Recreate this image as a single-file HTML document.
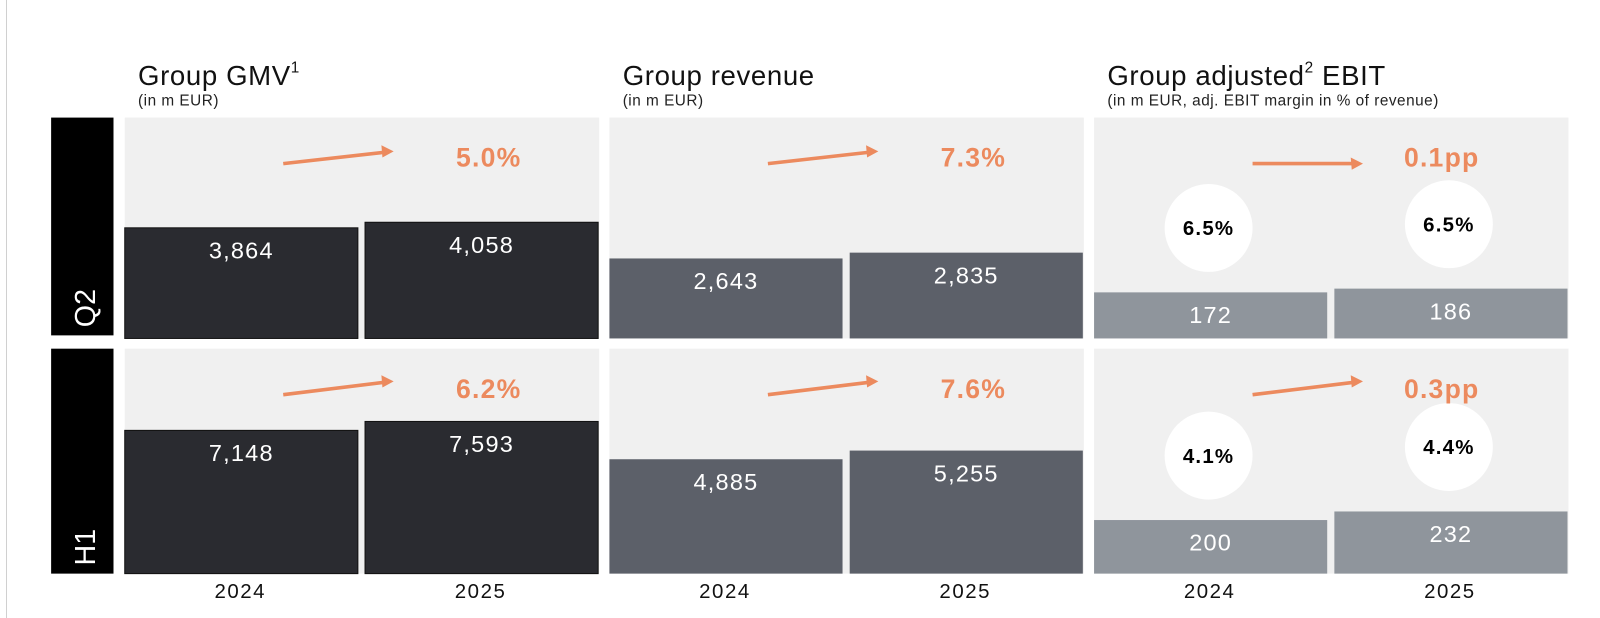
<!DOCTYPE html>
<html><head><meta charset="utf-8"><style>
body{margin:0;background:#fff;}
svg{display:block;font-family:"Liberation Sans",sans-serif;}
</style></head><body>
<svg id="root" width="1600" height="618" viewBox="0 0 1600 618" xmlns="http://www.w3.org/2000/svg">
<line x1="6.5" y1="0" x2="6.5" y2="618" stroke="#d0d0d0" stroke-width="1"/>
<g id="c" transform="scale(1.0225)"></g>
</svg>
<script>
const years = ["2024","2025"];
const rows = ["Q2","H1"];
const titles = ["Group GMV","Group revenue","Group adjusted"];
const subtitles = ["(in m EUR)","(in m EUR)","(in m EUR, adj. EBIT margin in % of revenue)"];
const gmvQ2 = [3864,4058];
const gmvH1 = [7148,7593];
const revQ2 = [2643,2835];
const revH1 = [4885,5255];
const ebitQ2 = [172,186];
const ebitH1 = [200,232];
const marginQ2 = ["6.5%","6.5%"];
const marginH1 = ["4.1%","4.4%"];
const growthQ2 = ["5.0%","7.3%","0.1pp"];
const growthH1 = ["6.2%","7.6%","0.3pp"];

const svg = document.getElementById('c');
const NS = "http://www.w3.org/2000/svg";
function mk(tag, attrs, parent){const e=document.createElementNS(NS,tag);for(const k in attrs)e.setAttribute(k,attrs[k]);(parent||svg).appendChild(e);return e;}

const panelX = [122,596,1070];
const panelW = 464;
const rowY = [[115,331],[341,561]];
const scales = [[0.028,0.0196],[0.0296,0.0229],[0.262,0.262]];
const colors = ["#2a2b30","#5c6069","#8f959c"];
const data = [[gmvQ2,gmvH1],[revQ2,revH1],[ebitQ2,ebitH1]];
const growth = [growthQ2,growthH1];
const margins = [marginQ2,marginH1];
const arrowRise = [[11,11,0],[12,12,12]];

rows.forEach((r,ri)=>{
  const y0=rowY[ri][0], y1=ri===0?328:561;
  const b=mk('rect',{x:50,y:y0,width:61,height:y1-y0,fill:"#000"});
  
  
  const t=mk('text',{x:0,y:0,fill:"#fff","font-size":28,transform:`translate(93,${y1-8}) rotate(-90)`});
  t.textContent=r;
  
  
});

titles.forEach((tt,pi)=>{
  const px=panelX[pi];
  const t=mk('text',{x:px+13,y:83,fill:"#111","font-size":27,"letter-spacing":0.6});
  t.textContent=tt;
  if(pi===0){const s=mk('tspan',{"font-size":15,dy:-12},t);s.textContent="1";}
  if(pi===2){const s=mk('tspan',{"font-size":15,dy:-12},t);s.textContent="2";const s2=mk('tspan',{dy:12},t);s2.textContent=" EBIT";}
  
  
  const st=mk('text',{x:px+13,y:103,fill:"#222","font-size":15,"letter-spacing":0.5});
  st.textContent=subtitles[pi];
  
  
  years.forEach((yr,yi)=>{
    const yt=mk('text',{x:px+(yi===0?113:348),y:585,fill:"#111","font-size":20,"letter-spacing":1.5,"text-anchor":"middle"});
    yt.textContent=yr;
    
    
  });
  rows.forEach((r,ri)=>{
    const [y0,y1]=rowY[ri];
    const bg=mk('rect',{x:px,y:y0,width:panelW,height:y1-y0,fill:"#f0f0f0"});
    
    
    data[pi][ri].forEach((v,yi)=>{
      const bx=px+(yi===0?0:235), bw=228;
      const h=v*scales[pi][ri];
      const bar=mk('rect',{x:bx,y:y1-h,width:bw,height:h,fill:colors[pi],stroke:pi===0?"#111":"none","stroke-width":1});
      
      
      const vt=mk('text',{x:bx+bw/2,y:y1-h+30,fill:"#fff","font-size":23,"letter-spacing":1.2,"text-anchor":"middle"});
      vt.textContent=v.toLocaleString('en-US');
      
      
      if(pi===2){
        const cy=y1-h-63;
        const c=mk('circle',{cx:bx+112,cy:cy,r:43,fill:"#fff"});
        
        
        const mt=mk('text',{x:bx+112,y:cy+7,fill:"#000","font-size":20,"font-weight":"bold","letter-spacing":1.2,"text-anchor":"middle"});
        mt.textContent=margins[ri][yi];
        
        
      }
    });
    const ay=y0+45, rise=arrowRise[ri][pi];
    const ln=mk('line',{x1:px+155,y1:ay,x2:px+253,y2:ay-rise,stroke:"#ec8a5e","stroke-width":3.5});
    
    
    const ex=px+263, ey=ay-rise-(rise?1:0);
    const hd=mk('polygon',{points:`${ex},${ey} ${ex-12},${ey-6} ${ex-11},${ey+6}`,fill:"#ec8a5e"});
    
    
    const gt=mk('text',{x:px+(pi===2?340:356),y:y0+48,fill:"#ec8a5e","font-size":26,"font-weight":"bold","letter-spacing":1.2,"text-anchor":"middle"});
    gt.textContent=growth[ri][pi];
    
    
  });
});
</script>
</body></html>
